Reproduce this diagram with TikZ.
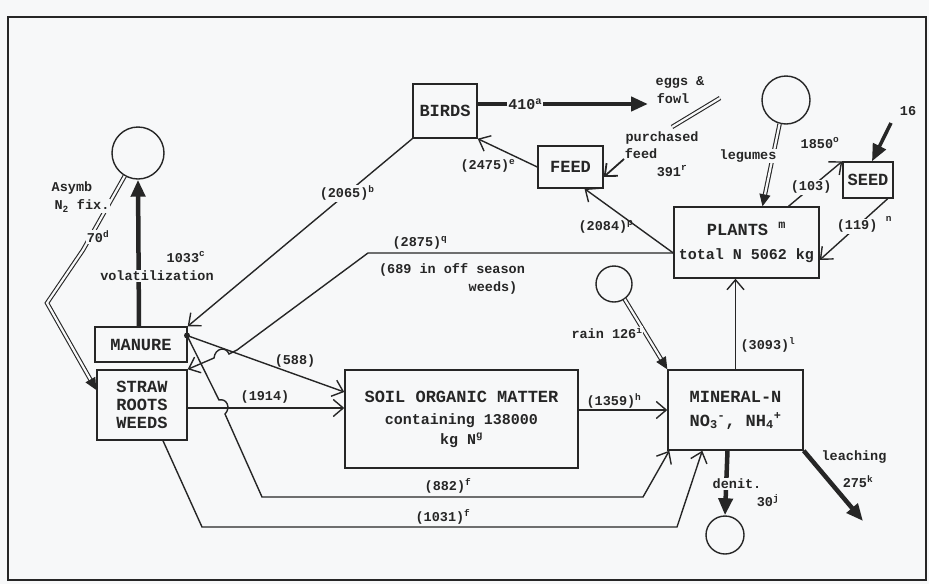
\documentclass[tikz,border=0pt]{standalone}
\usepackage{fontspec}
\setmainfont{Liberation Mono}
\usetikzlibrary{arrows.meta,calc}
\definecolor{ink}{RGB}{38,38,38}
\definecolor{paper}{RGB}{247,248,249}
\newcommand\fsup[1]{\textsuperscript{#1}}
\begin{document}
\begin{tikzpicture}[x=1pt,y=-1pt,
  box/.style={draw=ink, line width=1.4pt, rectangle, inner sep=0pt, font=\fontsize{17}{20}\selectfont\bfseries, align=center, text=ink},
  lab/.style={font=\fontsize{13.5}{15}\selectfont\bfseries, text=ink, inner sep=1pt, align=center},
  wlab/.style={lab, fill=paper},
  flow/.style={draw=ink, line width=1.4pt, -{Straight Barb[length=10pt,width=17pt]}},
  tflow/.style={draw=ink, line width=4.5pt, -{Triangle[length=17pt,width=14pt]}},
  dflow/.style={draw=ink, line width=1.1pt, double=paper, double distance=2.2pt, -{Triangle[length=12pt,width=11pt]}},
  dline/.style={draw=ink, line width=1.1pt, double=paper, double distance=2.2pt},
  pool/.style={circle, draw=ink, line width=1.4pt, inner sep=0pt},
]
\fill[paper] (0,0) rectangle (929,584);
\useasboundingbox (0,0) rectangle (929,584);
\draw[ink, line width=2.2pt] (8,17) rectangle (926,580);

% boxes
\node[box, minimum width=64pt, minimum height=54pt] (birds) at (445,111) {BIRDS};
\node[box, minimum width=65pt, minimum height=42pt] (feed) at (570.5,167) {FEED};
\node[box, minimum width=145pt, minimum height=71pt] (plants) at (746.5,242.5)
  {PLANTS \fsup{m}\\[4pt]{\fontsize{15}{17}\selectfont total N 5062 kg}};
\node[box, minimum width=50pt, minimum height=36pt] (seed) at (868,180) {SEED};
\node[box, minimum width=92pt, minimum height=35pt] (manure) at (141,344.5) {MANURE};
\node[box, minimum width=90pt, minimum height=70pt] (straw) at (142,405) {STRAW\\[-2pt]ROOTS\\[-2pt]WEEDS};
\node[box, minimum width=233pt, minimum height=98pt] (som) at (461.5,419)
  {SOIL ORGANIC MATTER\\[2pt]{\fontsize{15}{17}\selectfont containing 138000}\\[0pt]{\fontsize{15}{17}\selectfont kg N\fsup{g}}};
\node[box, minimum width=135pt, minimum height=80pt] (mineral) at (735.5,410)
  {MINERAL-N\\[4pt]NO\textsubscript{3}\fsup{-}, NH\textsubscript{4}\fsup{+}};

% pools (circles)
\node[pool, minimum size=52pt] (vol) at (138,153) {};
\node[pool, minimum size=48pt] (leg) at (786,100) {};
\node[pool, minimum size=36pt] (rainp) at (614,284) {};
\node[pool, minimum size=38pt] (denp) at (725,535) {};

% free ends
\coordinate (eggtip) at (648,104);
\coordinate (dl1) at (672,127);
\coordinate (dl2) at (720,98);
\coordinate (pfs) at (624,159);
\coordinate (qa) at (368,253);
\coordinate (qb) at (237,350);
\coordinate (mj) at (187,335.5);
\coordinate (fa) at (262,497);
\coordinate (fb) at (643,497);
\coordinate (ga) at (202,527);
\coordinate (gb) at (677,527);
\coordinate (leach) at (863,521);
\coordinate (ssrc) at (891,123);
\coordinate (ax1) at (83,250);
\coordinate (ax2) at (47,303);

% BIRDS -> eggs & fowl
\draw[tflow] ([yshift=7pt]birds.east) -- node[wlab, pos=0.28, font=\fontsize{15}{17}\selectfont\bfseries] {410\fsup{a}} (eggtip);
\node[lab] (egg1) at (680,82) {eggs \&};
\node[lab] (egg2) at (673,99) {fowl};
\draw[dline] (dl1) -- (dl2);

% purchased feed -> FEED
\draw[flow, line width=1.8pt] (pfs) -- ([yshift=-10pt]feed.east);
\node[lab] (pf1) at (662,138) {purchased};
\node[lab] (pf2) at (641,154) {feed};
\node[lab] (pf3) at (672,171) {391\fsup{r}};

% FEED -> BIRDS
\draw[flow] (feed.west) -- (birds.south east);
\node[lab] (l2475) at (488,166) {(2475)\fsup{e}};

% BIRDS -> MANURE
\draw[flow] (birds.south west) -- node[wlab, pos=0.29] {(2065)\fsup{b}} (manure.north east);

% PLANTS -> FEED
\draw[flow] ([yshift=-10.5pt]plants.west) -- ([xshift=14pt]feed.south);
\node[lab] (l2084) at (606,227) {(2084)\fsup{p}};

% PLANTS -> STRAW
\draw[flow] ([yshift=-10.5pt]plants.west) -- (qa) -- (qb) -- (229,354)
   .. controls (226,346) and (215,348) .. (214,358) -- (straw.north east);
\node[lab] (l2875) at (420,243) {(2875)\fsup{q}};
\node[lab] (l689) at (452,270) {(689 in off season};
\node[lab] (lweeds) at (493,288) {weeds)};

% MANURE -> SOM
\draw[flow] (mj) -- ([yshift=27pt]som.west);
\node[lab] (l588) at (295,361) {(588)};
\fill[ink] (mj) circle (3pt);

% MANURE -> MINERAL (882)
\draw[flow] (mj) -- (219,400) .. controls (227,398) and (231,408) .. (225,414) -- (fa) -- (fb) -- ([xshift=2pt]mineral.south west);
\node[lab] (l882) at (448,486) {(882)\fsup{f}};

% STRAW -> MINERAL (1031)
\draw[flow] ([xshift=21pt]straw.south) -- (ga) -- (gb) -- ([xshift=35pt]mineral.south west);
\node[lab] (l1031) at (443,517) {(1031)\fsup{f}};

% STRAW -> SOM
\draw[flow] ([yshift=-3pt]straw.east) -- ([yshift=11pt]som.west);
\node[lab] (l1914) at (265,397) {(1914)};

% SOM -> MINERAL
\draw[flow] ([yshift=9pt]som.east) -- (mineral.west);
\node[lab] (l1359) at (614,401) {(1359)\fsup{h}};

% MINERAL -> PLANTS
\draw[flow] (mineral.north) -- (mineral.north |- plants.south);
\node[lab] (l3093) at (768,345) {(3093)\fsup{l}};

% denitrification
\draw[tflow] ([xshift=-8pt]mineral.south) -- (denp.north);
\node[wlab] (ldenit) at (737,484) {denit.};
\node[lab] (l30) at (768,501) {30\fsup{j}};

% leaching
\draw[tflow] (mineral.south east) -- (leach);
\node[lab] (lleach) at (854,457) {leaching};
\node[lab] (l275) at (858,482) {275\fsup{k}};

% rain
\draw[dflow] (rainp.-55) -- (mineral.north west);
\node[wlab] (lrain) at (607,333) {rain 126\fsup{i}};

% legumes
\draw[dflow] (leg.-105) -- ([xshift=16pt]plants.north);
\node[wlab] (lleg) at (748,156) {legumes};
\node[lab] (l1850) at (820,143) {1850\fsup{o}};

% PLANTS -> SEED
\draw[flow] ([xshift=42pt]plants.north) -- node[wlab, pos=0.42] {(103)} (seed.north west);
% SEED -> PLANTS
\draw[flow] ([xshift=-6pt]seed.south east) -- node[wlab, pos=0.45] {(119)} ([yshift=-17.5pt]plants.east);
\node[lab] (ln) at (889,222) {\fsup{n}};
% 16 -> SEED
\draw[tflow, line width=3.5pt] (ssrc) -- ([xshift=4pt]seed.north);
\node[lab] (l16) at (908,111) {16};

% volatilization
\draw[tflow] ([xshift=-2pt]manure.north) -- (vol.south);
\node[lab] (l1033) at (186,257) {1033\fsup{c}};
\node[wlab] (lvol) at (157,276) {volatilization};

% asymbiotic N2 fixation
\draw[dflow] (vol.-120) -- (ax1) -- (ax2) -- ([yshift=15pt]straw.west);
\node[lab] (las) at (72,188) {Asymb};
\node[wlab] (lfix) at (82,206) {N\textsubscript{2} fix.};
\node[wlab] (l70) at (98,237) {70\fsup{d}};
\end{tikzpicture}
\end{document}
